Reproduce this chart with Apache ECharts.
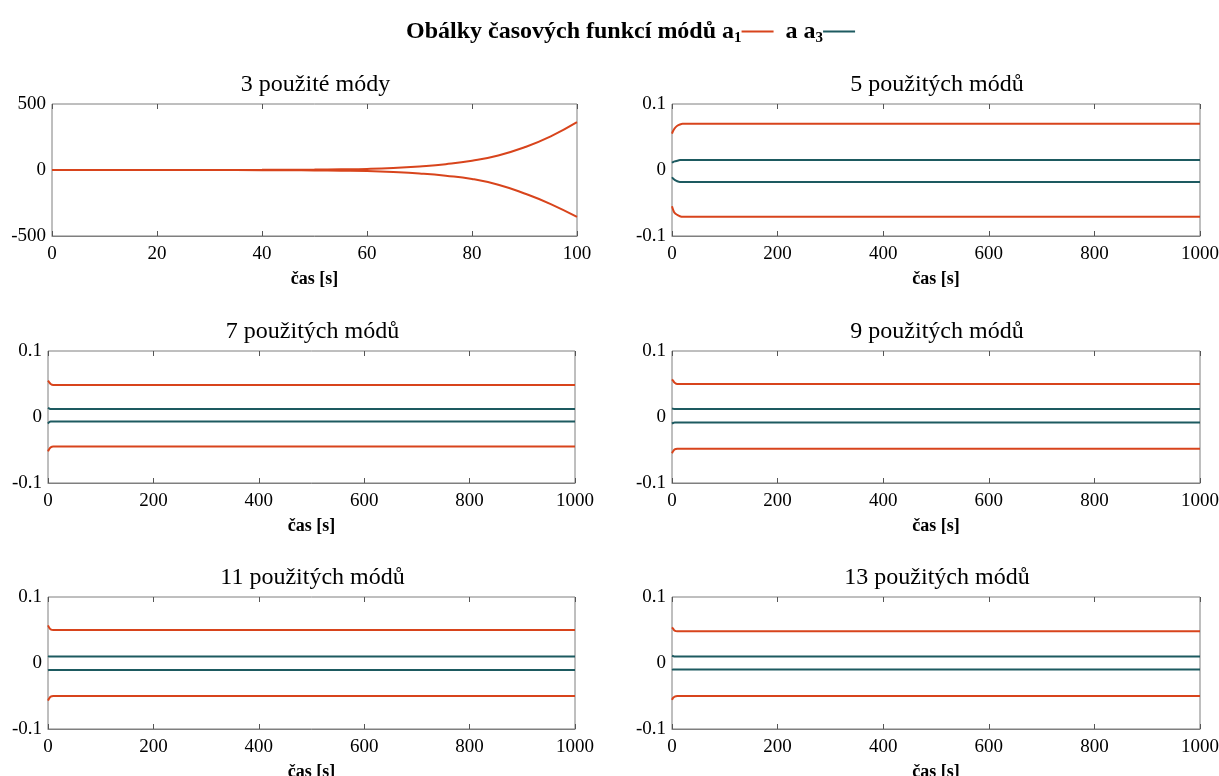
<!DOCTYPE html>
<html><head><meta charset="utf-8">
<script src="https://cdn.jsdelivr.net/npm/echarts@6/dist/echarts.min.js"></script>
<style>html,body{margin:0;padding:0;background:#fff}#c{width:1219px;height:776px}</style>
</head><body><div id="c"></div>
<script>
// ---------- data ----------
const mainTitle = 'Obálky časových funkcí módů';
const panelTitles = ['3 použité módy', '5 použitých módů', '7 použitých módů', '9 použitých módů', '11 použitých módů', '13 použitých módů'];
const xLabel = 'čas [s]';

// panel 1 (3 modes), time 0..100 s
const t3 = [0, 10, 20, 30, 40, 45, 50, 55, 60, 65, 70, 75, 80, 85, 90, 95, 100];
const a1Up3 = [0, 0, 0, 0, 1, 2, 3, 5, 8, 15, 27, 44, 70, 110, 172, 255, 362];
const a1Lo3 = [0, 0, 0, 0, -1, -2, -3, -5, -8, -15, -26, -43, -68, -112, -178, -258, -356];

// panels 2..6, time 0..1000 s
const tS = [0, 2, 5, 10, 15, 20, 30, 50, 100, 1000];
const a1Up5 = [0.055, 0.059, 0.063, 0.067, 0.069, 0.070, 0.070, 0.070, 0.070, 0.070];
const a1Lo5 = [-0.055, -0.060, -0.065, -0.068, -0.070, -0.071, -0.071, -0.071, -0.071, -0.071];
const a3Up5 = [0.011, 0.012, 0.013, 0.014, 0.015, 0.015, 0.015, 0.015, 0.015, 0.015];
const a3Lo5 = [-0.011, -0.013, -0.015, -0.017, -0.018, -0.018, -0.018, -0.018, -0.018, -0.018];

const a1Up7 = [0.055, 0.053, 0.050, 0.0485, 0.0485, 0.0485, 0.0485, 0.0485, 0.0485, 0.0485];
const a1Lo7 = [-0.052, -0.049, -0.046, -0.0448, -0.0448, -0.0448, -0.0448, -0.0448, -0.0448, -0.0448];
const a3Up7 = [0.014, 0.013, 0.012, 0.012, 0.012, 0.012, 0.012, 0.012, 0.012, 0.012];
const a3Lo7 = [-0.010, -0.008, -0.007, -0.007, -0.007, -0.007, -0.007, -0.007, -0.007, -0.007];

const a1Up9 = [0.057, 0.055, 0.052, 0.050, 0.050, 0.050, 0.050, 0.050, 0.050, 0.050];
const a1Lo9 = [-0.055, -0.052, -0.049, -0.048, -0.048, -0.048, -0.048, -0.048, -0.048, -0.048];
const a3Up9 = [0.013, 0.0125, 0.012, 0.012, 0.012, 0.012, 0.012, 0.012, 0.012, 0.012];
const a3Lo9 = [-0.010, -0.009, -0.0085, -0.0085, -0.0085, -0.0085, -0.0085, -0.0085, -0.0085, -0.0085];

const a1Up11 = [0.057, 0.054, 0.051, 0.050, 0.050, 0.050, 0.050, 0.050, 0.050, 0.050];
const a1Lo11 = [-0.057, -0.054, -0.051, -0.050, -0.050, -0.050, -0.050, -0.050, -0.050, -0.050];
const a3Up11 = [0.0105, 0.010, 0.0098, 0.0098, 0.0098, 0.0098, 0.0098, 0.0098, 0.0098, 0.0098];
const a3Lo11 = [-0.011, -0.0107, -0.0107, -0.0107, -0.0107, -0.0107, -0.0107, -0.0107, -0.0107, -0.0107];

const a1Up13 = [0.054, 0.052, 0.049, 0.048, 0.048, 0.048, 0.048, 0.048, 0.048, 0.048];
const a1Lo13 = [-0.056, -0.053, -0.051, -0.050, -0.050, -0.050, -0.050, -0.050, -0.050, -0.050];
const a3Up13 = [0.011, 0.0105, 0.010, 0.010, 0.010, 0.010, 0.010, 0.010, 0.010, 0.010];
const a3Lo13 = [-0.0105, -0.010, -0.010, -0.010, -0.010, -0.010, -0.010, -0.010, -0.010, -0.010];

// ---------- styling / layout ----------
const RED = '#d8441c';
const TEAL = '#1d5a60';
const FONT = '"Liberation Serif", "Times New Roman", serif';

const grids = [
  {left: 52, top: 104, width: 525, height: 132},
  {left: 672, top: 104, width: 528, height: 132},
  {left: 48, top: 351, width: 527, height: 132},
  {left: 672, top: 351, width: 528, height: 132},
  {left: 48, top: 597, width: 527, height: 132},
  {left: 672, top: 597, width: 528, height: 132}
];

const panels = [
  {t: t3, xMax: 100, xInt: 20, yMin: -500, yMax: 500, yInt: 500, a1: [a1Up3, a1Lo3], a3: [], smooth: 0.5},
  {t: tS, xMax: 1000, xInt: 200, yMin: -0.1, yMax: 0.1, yInt: 0.1, a1: [a1Up5, a1Lo5], a3: [a3Up5, a3Lo5], smooth: 0.3},
  {t: tS, xMax: 1000, xInt: 200, yMin: -0.1, yMax: 0.1, yInt: 0.1, a1: [a1Up7, a1Lo7], a3: [a3Up7, a3Lo7], smooth: 0.3},
  {t: tS, xMax: 1000, xInt: 200, yMin: -0.1, yMax: 0.1, yInt: 0.1, a1: [a1Up9, a1Lo9], a3: [a3Up9, a3Lo9], smooth: 0.3},
  {t: tS, xMax: 1000, xInt: 200, yMin: -0.1, yMax: 0.1, yInt: 0.1, a1: [a1Up11, a1Lo11], a3: [a3Up11, a3Lo11], smooth: 0.3},
  {t: tS, xMax: 1000, xInt: 200, yMin: -0.1, yMax: 0.1, yInt: 0.1, a1: [a1Up13, a1Lo13], a3: [a3Up13, a3Lo13], smooth: 0.3}
];

const fmt = v => String(Math.round(v * 1000) / 1000);

const option = {
  backgroundColor: '#fff',
  animation: false,
  title: [],
  grid: [],
  xAxis: [],
  yAxis: [],
  series: []
};

option.title.push({
  left: 401,
  top: 12,
  text: '{t|' + mainTitle + ' a}{s|1}{r| }{t|  a a}{s|3}{g| }',
  textStyle: {
    rich: {
      t: {fontFamily: FONT, fontSize: 24, fontWeight: 'bold', color: '#000', lineHeight: 29},
      s: {fontFamily: FONT, fontSize: 15, fontWeight: 'bold', color: '#000', verticalAlign: 'bottom', lineHeight: 22},
      r: {width: 32, height: 2, backgroundColor: RED, verticalAlign: 'middle', lineHeight: 2},
      g: {width: 32, height: 2, backgroundColor: TEAL, verticalAlign: 'middle', lineHeight: 2}
    }
  }
});

panels.forEach((p, i) => {
  const g = grids[i];
  option.grid.push(Object.assign({show: true, borderColor: '#7f7f7f', borderWidth: 1, backgroundColor: 'transparent', containLabel: false, outerBoundsMode: 'none'}, g));
  option.title.push({
    text: panelTitles[i],
    left: g.left + g.width / 2 - 4,
    top: g.top - 36,
    textAlign: 'center',
    textStyle: {fontFamily: FONT, fontSize: 24, fontWeight: 'normal', color: '#000'}
  });
  option.xAxis.push({
    type: 'value', gridIndex: i, min: 0, max: p.xMax, interval: p.xInt, position: 'bottom',
    name: xLabel, nameLocation: 'middle', nameGap: 34,
    nameTextStyle: {fontFamily: FONT, fontSize: 18, fontWeight: 'bold', color: '#000'},
    axisLine: {show: true, onZero: false, lineStyle: {color: '#7f7f7f', width: 1}},
    axisTick: {show: true, inside: true, length: 5, lineStyle: {color: '#555'}},
    axisLabel: {fontFamily: FONT, fontSize: 19, color: '#000', margin: 9, formatter: fmt},
    splitLine: {show: false}
  });
  option.xAxis.push({
    type: 'value', gridIndex: i, min: 0, max: p.xMax, interval: p.xInt, position: 'top',
    axisLine: {show: false, onZero: false},
    axisTick: {show: true, inside: true, length: 5, lineStyle: {color: '#555'}},
    axisLabel: {show: false},
    splitLine: {show: false}
  });
  option.yAxis.push({
    type: 'value', gridIndex: i, min: p.yMin, max: p.yMax, interval: p.yInt,
    axisLine: {show: false, onZero: false},
    axisTick: {show: false},
    axisLabel: {fontFamily: FONT, fontSize: 19, color: '#000', margin: 6, formatter: fmt},
    splitLine: {show: false}
  });
  const xi = i * 2;
  const mk = (vals, color, name) => ({
    type: 'line', name: name, xAxisIndex: xi, yAxisIndex: i,
    data: p.t.map((t, k) => [t, vals[k]]),
    showSymbol: false, symbol: 'none', smooth: p.smooth,
    lineStyle: {color: color, width: 2},
    itemStyle: {color: color},
    emphasis: {disabled: true}
  });
  p.a3.forEach(v => option.series.push(mk(v, TEAL, 'a3')));
  p.a1.forEach(v => option.series.push(mk(v, RED, 'a1')));
});

const chart = echarts.init(document.getElementById('c'), null, {renderer: 'canvas'});
chart.setOption(option);
</script>
</body></html>
